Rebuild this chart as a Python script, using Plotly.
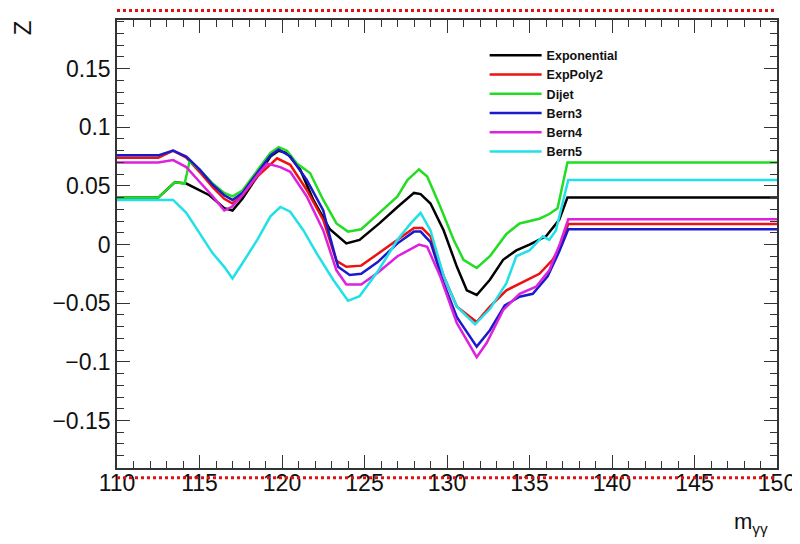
import plotly.graph_objects as go

# ---- data ----
exp_x = [110, 112.5, 113.5, 114.2, 115.6, 116.5, 117.0, 117.6, 118.5, 119.3, 119.8, 120.3, 121.1, 121.9,
         122.9, 123.9, 124.7, 125.9, 127.0, 128.0, 128.4, 129.0, 129.8, 130.6, 131.2, 131.8, 132.6, 133.4,
         134.2, 135.0, 136.0, 136.8, 137.3, 150]
exp_y = [0.040, 0.040, 0.053, 0.052, 0.042, 0.031, 0.029, 0.039, 0.058, 0.075, 0.080, 0.078, 0.064, 0.038,
         0.013, 0.001, 0.004, 0.018, 0.032, 0.044, 0.043, 0.035, 0.012, -0.019, -0.039, -0.043, -0.030, -0.013,
         -0.005, 0.000, 0.007, 0.021, 0.040, 0.040]

ep2_x = [110, 112.5, 113.4, 114.2, 115.0, 115.8, 116.5, 117.0, 117.6, 118.5, 119.7, 120.5, 121.5, 122.5,
         123.3, 123.9, 124.8, 125.8, 127.0, 128.0, 128.5, 129.0, 129.8, 130.6, 131.8, 132.6, 133.6, 134.6,
         135.6, 136.4, 136.85, 137.35, 150]
ep2_y = [0.074, 0.074, 0.080, 0.074, 0.062, 0.049, 0.039, 0.035, 0.042, 0.058, 0.0735, 0.068, 0.0465, 0.021,
         -0.014, -0.019, -0.018, -0.008, 0.004, 0.014, 0.014, 0.007, -0.027, -0.053, -0.066, -0.053, -0.039, -0.032,
         -0.025, -0.013, -0.002, 0.0175, 0.0175]

dij_x = [110, 112.5, 113.5, 114.1, 114.4, 115.0, 115.8, 116.5, 117.0, 117.6, 118.5, 119.3, 119.8, 120.3,
         120.9, 121.7, 122.5, 123.3, 124.0, 124.8, 125.9, 127.0, 127.6, 128.3, 128.8, 129.6, 130.4, 131.0,
         131.8, 132.6, 133.6, 134.4, 135.6, 136.2, 136.7, 137.3, 150]
dij_y = [0.040, 0.040, 0.053, 0.052, 0.071, 0.064, 0.052, 0.044, 0.041, 0.046, 0.063, 0.078, 0.083, 0.080,
         0.069, 0.061, 0.038, 0.018, 0.011, 0.013, 0.027, 0.041, 0.055, 0.064, 0.058, 0.032, 0.004, -0.013,
         -0.020, -0.010, 0.009, 0.018, 0.022, 0.026, 0.031, 0.070, 0.070]

b3_x = [110, 112.5, 113.4, 114.2, 115.0, 115.8, 116.5, 117.0, 117.6, 118.5, 119.3, 119.8, 120.5, 121.5,
        122.5, 122.9, 123.4, 124.1, 124.8, 125.8, 127.0, 128.0, 128.4, 129.0, 129.8, 130.6, 131.8, 132.6,
        133.5, 134.4, 135.2, 136.1, 136.8, 137.35, 150]
b3_y = [0.076, 0.076, 0.080, 0.075, 0.064, 0.051, 0.042, 0.038, 0.044, 0.061, 0.076, 0.081, 0.075, 0.055,
        0.029, 0.007, -0.019, -0.026, -0.025, -0.015, 0.001, 0.011, 0.011, 0.002, -0.033, -0.062, -0.087, -0.073,
        -0.052, -0.0445, -0.042, -0.027, -0.006, 0.013, 0.013]

b4_x = [110, 112.5, 113.4, 114.2, 115.0, 115.8, 116.5, 116.95, 117.6, 118.5, 119.1, 119.9, 120.5, 121.5,
        122.5, 123.3, 123.9, 124.8, 125.8, 127.0, 128.3, 128.8, 129.6, 130.6, 131.8, 132.4, 133.4, 134.4,
        135.4, 136.2, 136.85, 137.35, 150]
b4_y = [0.070, 0.070, 0.072, 0.066, 0.0535, 0.041, 0.029, 0.032, 0.042, 0.059, 0.069, 0.066, 0.062, 0.041,
        0.012, -0.022, -0.034, -0.034, -0.024, -0.010, 0.000, -0.002, -0.0275, -0.067, -0.096, -0.084, -0.056, -0.042,
        -0.036, -0.022, 0.001, 0.0215, 0.0215]

b5_x = [110, 113.4, 114.2, 115.0, 115.8, 116.5, 117.0, 117.6, 118.5, 119.3, 119.9, 120.5, 121.3, 122.1,
        123.1, 124.0, 124.7, 125.8, 127.0, 127.8, 128.4, 129.0, 129.8, 130.6, 131.7, 132.6, 133.6, 134.2,
        135.0, 135.8, 136.2, 136.6, 137.05, 137.35, 150]
b5_y = [0.038, 0.038, 0.027, 0.0095, -0.0075, -0.019, -0.029, -0.016, 0.004, 0.024, 0.032, 0.028, 0.012, -0.0075,
        -0.030, -0.048, -0.044, -0.023, 0.004, 0.018, 0.027, 0.012, -0.027, -0.053, -0.068, -0.055, -0.033, -0.010,
        -0.005, 0.007, 0.004, 0.012, 0.038, 0.055, 0.055]

series = [
    ("Exponential", exp_x, exp_y, "#000000"),
    ("ExpPoly2", ep2_x, ep2_y, "#ee1111"),
    ("Dijet", dij_x, dij_y, "#22dd22"),
    ("Bern3", b3_x, b3_y, "#1a1acc"),
    ("Bern4", b4_x, b4_y, "#dd22dd"),
    ("Bern5", b5_x, b5_y, "#22e0e8"),
]

x_tickvals = [110, 115, 120, 125, 130, 135, 140, 145, 150]
x_ticktext = ["110", "115", "120", "125", "130", "135", "140", "145", "150"]
y_tickvals = [-0.15, -0.1, -0.05, 0, 0.05, 0.1, 0.15]
y_ticktext = ["\u22120.15", "\u22120.1", "\u22120.05", "0", "0.05", "0.1", "0.15"]

x_range = [110, 150]
y_range = [-0.1905, 0.1914]

FONT = "Liberation Sans, Arial, sans-serif"

fig = go.Figure()
for name, xs, ys, col in series:
    fig.add_trace(go.Scatter(x=xs, y=ys, mode="lines", name="<b>%s</b>" % name,
                             line=dict(color=col, width=2.5)))

axis_common = dict(
    showline=True, linecolor="#333333", linewidth=1.5, mirror="allticks",
    ticks="inside", ticklen=13, tickwidth=1.2, tickcolor="#333333",
    showgrid=False, zeroline=False, automargin=False,
    tickfont=dict(family=FONT, size=23, color="#111111"),
)
fig.update_xaxes(range=x_range, tickmode="array", tickvals=x_tickvals, ticktext=x_ticktext,
                 ticklabelstandoff=-6,
                 minor=dict(ticks="inside", dtick=1, tick0=110, ticklen=7, tickwidth=1.2, tickcolor="#333333"),
                 **axis_common)
fig.update_yaxes(range=y_range, tickmode="array", tickvals=y_tickvals, ticktext=y_ticktext,
                 minor=dict(ticks="inside", dtick=0.01, tick0=0, ticklen=7, tickwidth=1.2, tickcolor="#333333"),
                 **axis_common)

# red dotted reference lines above and below the frame
for yy in [1.021, -0.022]:
    fig.add_shape(type="line", xref="paper", yref="paper", x0=0, x1=1, y0=yy, y1=yy,
                  line=dict(color="#dd1111", width=3, dash="dot"))

fig.add_annotation(text="Z", xref="paper", yref="paper", x=-0.144, y=0.984,
                   showarrow=False, textangle=-90, font=dict(family=FONT, size=24, color="#111111"),
                   xanchor="center", yanchor="middle")
fig.add_annotation(text="m<sub>γγ</sub>", xref="paper", yref="paper", x=0.96, y=-0.122,
                   showarrow=False, font=dict(family=FONT, size=22, color="#111111"),
                   xanchor="center", yanchor="middle")

fig.update_layout(
    width=792, height=536,
    margin=dict(l=109, r=23, t=12, b=76),
    paper_bgcolor="white", plot_bgcolor="white",
    showlegend=True,
    legend=dict(x=0.557, y=0.954, xanchor="left", yanchor="top", bgcolor="rgba(255,255,255,0)",
                borderwidth=0, itemwidth=52, font=dict(family=FONT, size=12.5, color="#111111"),
                tracegroupgap=0),
)

fig.write_html("out.html")
